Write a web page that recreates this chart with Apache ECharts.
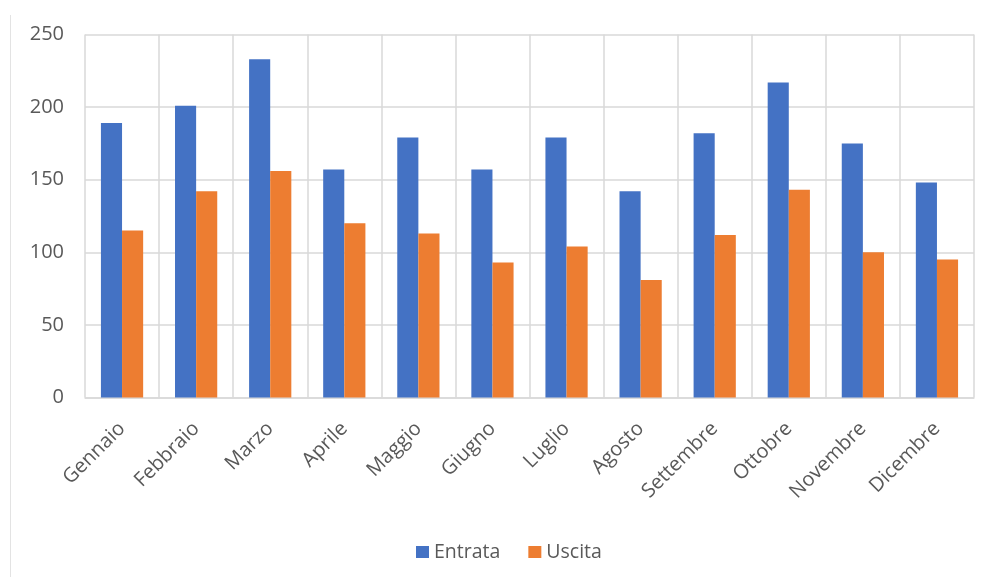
<!DOCTYPE html>
<html>
<head>
<meta charset="utf-8">
<script src="https://cdn.jsdelivr.net/npm/echarts@6/dist/echarts.min.js"></script>
<style>
  html, body { margin: 0; padding: 0; background: #fff; }
  #chart { width: 991px; height: 577px; }
</style>
</head>
<body>
<div id="chart"></div>
<script>
// Monthly incoming / outgoing totals
const months = ['Gennaio', 'Febbraio', 'Marzo', 'Aprile', 'Maggio', 'Giugno',
                'Luglio', 'Agosto', 'Settembre', 'Ottobre', 'Novembre', 'Dicembre'];
const entrata = [189, 201, 233, 157, 179, 157, 179, 142, 182, 217, 175, 148];
const uscita  = [115, 142, 156, 120, 113, 93, 104, 81, 112, 143, 100, 95];
const seriesNames = ['Entrata', 'Uscita'];

const textColor = '#595959';
const gridColor = '#d9d9d9';
const fontFamily = '"Open Sans", "Noto Sans", sans-serif';

const chart = echarts.init(document.getElementById('chart'), null, { renderer: 'canvas' });
chart.setOption({
  animation: false,
  backgroundColor: '#ffffff',
  color: ['#4472C4', '#ED7D31'],
  textStyle: { fontFamily: fontFamily },
  graphic: [{
    type: 'line',
    shape: { x1: 10.5, y1: 15, x2: 10.5, y2: 577 },
    style: { stroke: '#e3e3e3', lineWidth: 1 }
  }],
  grid: { left: 85, right: 17, top: 34.5, bottom: 179.5 },
  legend: {
    data: seriesNames,
    top: 537,
    left: 411,
    itemWidth: 13,
    itemHeight: 12,
    itemGap: 28,
    icon: 'rect',
    textStyle: { color: textColor, fontSize: 19.5, fontFamily: fontFamily }
  },
  xAxis: {
    type: 'category',
    data: months,
    boundaryGap: true,
    axisLine: { show: true, lineStyle: { color: gridColor, width: 1.5 } },
    axisTick: { show: false },
    splitLine: { show: true, interval: 0, lineStyle: { color: gridColor, width: 1.5 } },
    axisLabel: {
      interval: 0,
      rotate: 45,
      color: textColor,
      fontSize: 20,
      margin: 28,
      fontFamily: fontFamily
    }
  },
  yAxis: {
    type: 'value',
    min: 0,
    max: 250,
    interval: 50,
    axisLine: { show: false },
    axisTick: { show: false },
    splitLine: { show: true, lineStyle: { color: gridColor, width: 1.5 } },
    axisLabel: { color: textColor, fontSize: 20, margin: 21, fontFamily: fontFamily }
  },
  series: [
    {
      name: seriesNames[0],
      type: 'bar',
      data: entrata,
      barGap: '0%',
      barCategoryGap: '43%'
    },
    {
      name: seriesNames[1],
      type: 'bar',
      data: uscita,
      barGap: '0%',
      barCategoryGap: '43%'
    }
  ]
});
</script>
</body>
</html>
